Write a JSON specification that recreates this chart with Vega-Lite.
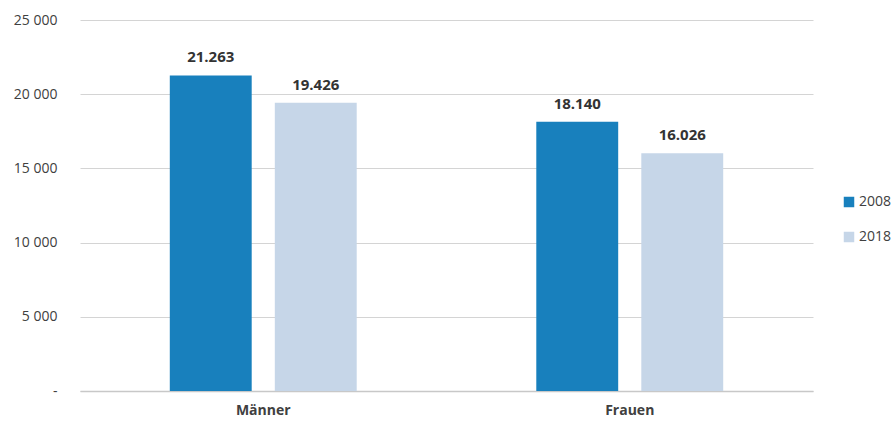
{
  "$schema": "https://vega.github.io/schema/vega-lite/v6.json",
  "autosize": {"type": "none"},
  "width": 733,
  "height": 371,
  "padding": {"left": 80, "top": 20, "right": 81, "bottom": 32},
  "background": "white",
  "config": {
    "font": "Open Sans",
    "view": {"stroke": null},
    "locale": {"number": {"decimal": ",", "thousands": ".", "grouping": [3], "currency": ["", " €"]}}
  },
  "data": {"values": [
    {"Geschlecht": "Männer", "Jahr": "2008", "Wert": 21263},
    {"Geschlecht": "Männer", "Jahr": "2018", "Wert": 19426},
    {"Geschlecht": "Frauen", "Jahr": "2008", "Wert": 18140},
    {"Geschlecht": "Frauen", "Jahr": "2018", "Wert": 16026}
  ]},
  "encoding": {
    "x": {"field": "Geschlecht", "type": "nominal", "sort": ["Männer", "Frauen"],
      "scale": {"paddingInner": 0.49, "paddingOuter": 0.245},
      "axis": {"title": null, "labelAngle": 0, "ticks": false, "domain": true, "domainColor": "#c8c8c8", "domainWidth": 1.5,
        "labelFont": "Open Sans", "labelFontSize": 14, "labelFontWeight": "bold", "labelColor": "#404040", "labelPadding": 12}},
    "xOffset": {"field": "Jahr", "type": "nominal", "scale": {"paddingInner": 0.22, "paddingOuter": 0}},
    "y": {"field": "Wert", "type": "quantitative", "scale": {"domain": [0, 25000], "nice": false},
      "axis": {"title": null, "values": [0, 5000, 10000, 15000, 20000, 25000], "domain": false, "ticks": false,
        "gridColor": "#d4d4d4", "gridWidth": 1, "labelFontSize": 14, "labelColor": "#404040", "labelPadding": 23,
        "labelExpr": "datum.value == 0 ? '-' : replace(format(datum.value, ','), '.', ' ')"}}
  },
  "layer": [
    {"mark": {"type": "bar"},
     "encoding": {"color": {"field": "Jahr", "type": "nominal",
       "scale": {"domain": ["2008", "2018"], "range": ["#1880bd", "#c6d6e8"]},
       "legend": {"title": null, "orient": "none", "legendX": 762, "legendY": 175, "symbolType": "square", "symbolSize": 110,
         "symbolStrokeWidth": 0, "labelFontSize": 14, "labelColor": "#404040", "rowPadding": 21, "labelOffset": 3}}}},
    {"mark": {"type": "text", "baseline": "bottom", "dy": -10, "fontSize": 15, "fontWeight": "bold", "color": "#333333"},
     "encoding": {"text": {"field": "Wert", "type": "quantitative", "format": ",.0f"}}}
  ]
}
